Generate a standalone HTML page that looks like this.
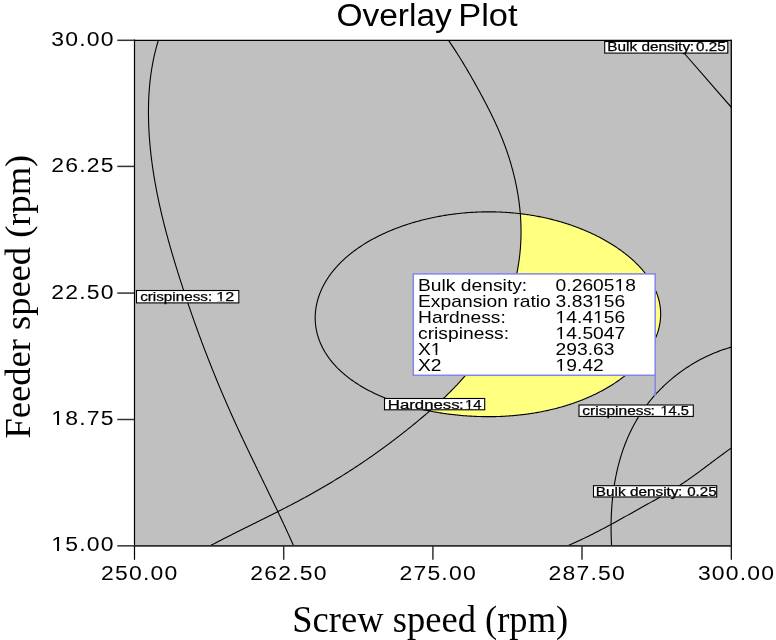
<!DOCTYPE html>
<html><head><meta charset="utf-8"><style>html,body{margin:0;padding:0;background:#fff;width:776px;height:640px;overflow:hidden}svg{display:block;will-change:transform}text{fill:#000}</style></head>
<body><svg width="776" height="640" viewBox="0 0 776 640"><rect x="0" y="0" width="776" height="640" fill="#fff"/>
<rect x="134" y="40" width="597" height="506" fill="#c0c0c0"/>
<defs><clipPath id="cp"><path d="M448.19,39.95 L449.04,41.18 L449.88,42.41 L450.72,43.65 L451.56,44.90 L452.39,46.14 L453.22,47.39 L454.04,48.64 L454.86,49.90 L455.68,51.16 L456.49,52.42 L457.30,53.68 L458.10,54.95 L458.90,56.22 L459.70,57.49 L460.49,58.77 L461.28,60.04 L462.07,61.32 L462.85,62.61 L463.63,63.89 L464.41,65.18 L465.18,66.47 L465.95,67.76 L466.71,69.05 L467.48,70.35 L468.24,71.65 L469.00,72.94 L469.75,74.25 L470.50,75.55 L471.25,76.85 L472.00,78.16 L472.74,79.46 L473.48,80.77 L474.22,82.08 L474.95,83.39 L475.68,84.70 L476.41,86.02 L477.14,87.33 L477.86,88.65 L478.59,89.96 L479.31,91.28 L480.03,92.60 L480.74,93.91 L481.45,95.23 L482.16,96.55 L482.87,97.88 L483.57,99.20 L484.27,100.52 L484.97,101.85 L485.67,103.17 L486.36,104.50 L487.04,105.83 L487.72,107.16 L488.40,108.50 L489.08,109.83 L489.75,111.17 L490.42,112.51 L491.08,113.85 L491.73,115.19 L492.39,116.53 L493.03,117.88 L493.68,119.23 L494.32,120.58 L494.95,121.94 L495.57,123.29 L496.20,124.65 L496.81,126.01 L497.42,127.38 L498.03,128.74 L498.63,130.11 L499.22,131.49 L499.80,132.86 L500.38,134.24 L500.96,135.63 L501.52,137.01 L502.08,138.40 L502.64,139.79 L503.18,141.19 L503.72,142.59 L504.25,143.99 L504.78,145.40 L505.30,146.80 L505.81,148.22 L506.31,149.63 L506.80,151.05 L507.29,152.47 L507.77,153.90 L508.25,155.32 L508.71,156.75 L509.17,158.19 L509.62,159.62 L510.06,161.06 L510.50,162.50 L510.92,163.95 L511.34,165.39 L511.75,166.84 L512.15,168.29 L512.55,169.74 L512.93,171.20 L513.31,172.66 L513.68,174.12 L514.04,175.58 L514.40,177.04 L514.74,178.51 L515.08,179.98 L515.40,181.44 L515.72,182.92 L516.03,184.39 L516.33,185.86 L516.63,187.34 L516.91,188.82 L517.18,190.30 L517.45,191.78 L517.71,193.26 L517.95,194.75 L518.19,196.23 L518.42,197.72 L518.64,199.20 L518.85,200.69 L519.06,202.18 L519.25,203.67 L519.43,205.16 L519.60,206.66 L519.77,208.15 L519.92,209.64 L520.07,211.14 L520.20,212.63 L520.33,214.13 L520.44,215.63 L520.55,217.12 L520.64,218.62 L520.73,220.12 L520.80,221.62 L520.87,223.12 L520.92,224.61 L520.97,226.11 L521.00,227.61 L521.02,229.11 L521.04,230.61 L521.04,232.11 L521.03,233.61 L521.01,235.11 L520.99,236.60 L520.95,238.10 L520.90,239.60 L520.84,241.10 L520.76,242.59 L520.68,244.09 L520.59,245.58 L520.48,247.08 L520.37,248.57 L520.24,250.06 L520.11,251.56 L519.96,253.05 L519.80,254.54 L519.63,256.03 L519.45,257.51 L519.26,259.00 L519.06,260.49 L518.84,261.97 L518.62,263.45 L518.39,264.93 L518.14,266.41 L517.89,267.89 L517.62,269.37 L517.35,270.84 L517.06,272.31 L516.76,273.78 L516.46,275.25 L516.14,276.72 L515.81,278.18 L515.47,279.64 L515.12,281.10 L514.77,282.56 L514.40,284.01 L514.02,285.46 L513.63,286.91 L513.23,288.36 L512.82,289.80 L512.40,291.24 L511.97,292.68 L511.53,294.11 L511.09,295.54 L510.63,296.97 L510.16,298.40 L509.68,299.82 L509.19,301.24 L508.69,302.65 L508.19,304.07 L507.67,305.47 L507.14,306.88 L506.60,308.28 L506.06,309.68 L505.50,311.07 L504.94,312.46 L504.36,313.84 L503.78,315.22 L503.18,316.60 L502.58,317.97 L501.96,319.34 L501.34,320.71 L500.71,322.07 L500.07,323.42 L499.42,324.77 L498.76,326.12 L498.09,327.46 L497.41,328.79 L496.73,330.13 L496.03,331.45 L495.33,332.77 L494.61,334.09 L493.89,335.40 L493.16,336.71 L492.42,338.01 L491.66,339.30 L490.91,340.59 L490.14,341.88 L489.36,343.15 L488.58,344.43 L487.78,345.69 L486.98,346.96 L486.17,348.21 L485.35,349.46 L484.52,350.70 L483.68,351.94 L482.84,353.18 L481.98,354.40 L481.12,355.63 L480.26,356.84 L479.38,358.05 L478.49,359.26 L477.60,360.46 L476.70,361.65 L475.80,362.84 L474.88,364.03 L473.96,365.21 L473.03,366.38 L472.10,367.55 L471.15,368.72 L470.21,369.88 L469.25,371.03 L468.29,372.18 L467.32,373.32 L466.34,374.46 L465.36,375.60 L464.37,376.73 L463.38,377.85 L462.38,378.97 L461.37,380.09 L460.36,381.20 L459.35,382.31 L458.32,383.41 L457.29,384.51 L456.26,385.60 L455.22,386.69 L454.18,387.77 L453.13,388.85 L452.07,389.93 L451.01,391.00 L449.95,392.07 L448.88,393.13 L447.81,394.19 L446.73,395.24 L445.65,396.29 L444.56,397.34 L443.47,398.38 L442.38,399.42 L441.28,400.46 L440.17,401.49 L439.07,402.51 L437.96,403.54 L436.84,404.56 L435.73,405.57 L434.61,406.58 L433.48,407.59 L432.35,408.60 L431.22,409.60 L430.09,410.60 L428.95,411.59 L427.81,412.58 L426.67,413.57 L425.53,414.55 L424.38,415.54 L423.23,416.51 L422.08,417.49 L420.93,418.46 L419.77,419.43 L418.61,420.39 L417.45,421.35 L416.29,422.31 L415.13,423.27 L413.96,424.22 L412.80,425.17 L411.63,426.12 L410.46,427.06 L409.29,428.00 L408.12,428.94 L406.95,429.88 L405.77,430.81 L404.60,431.74 L403.42,432.67 L402.24,433.59 L401.06,434.52 L399.88,435.44 L398.70,436.35 L397.51,437.27 L396.33,438.18 L395.14,439.09 L393.95,439.99 L392.76,440.89 L391.57,441.79 L390.37,442.69 L389.18,443.59 L387.98,444.48 L386.78,445.37 L385.58,446.25 L384.38,447.14 L383.17,448.02 L381.97,448.90 L380.76,449.77 L379.55,450.65 L378.34,451.52 L377.13,452.39 L375.91,453.25 L374.69,454.11 L373.48,454.97 L372.25,455.83 L371.03,456.69 L369.81,457.54 L368.58,458.39 L367.35,459.24 L366.12,460.08 L364.89,460.92 L363.65,461.76 L362.42,462.60 L361.18,463.43 L359.93,464.26 L358.69,465.09 L357.45,465.92 L356.20,466.75 L354.95,467.57 L353.69,468.39 L352.44,469.20 L351.18,470.02 L349.92,470.83 L348.66,471.64 L347.40,472.44 L346.13,473.25 L344.86,474.05 L343.59,474.85 L342.32,475.65 L341.04,476.44 L339.77,477.23 L338.49,478.02 L337.21,478.81 L335.92,479.59 L334.64,480.37 L333.35,481.15 L332.06,481.93 L330.77,482.70 L329.48,483.47 L328.18,484.24 L326.89,485.01 L325.59,485.77 L324.29,486.53 L322.99,487.29 L321.69,488.04 L320.38,488.80 L319.08,489.55 L317.77,490.29 L316.46,491.04 L315.15,491.78 L313.84,492.52 L312.53,493.26 L311.22,493.99 L309.90,494.72 L308.59,495.45 L307.27,496.18 L305.95,496.90 L304.63,497.62 L303.31,498.34 L301.99,499.05 L300.67,499.76 L299.34,500.47 L298.02,501.18 L296.69,501.89 L295.37,502.59 L294.04,503.29 L292.71,503.99 L291.38,504.68 L290.05,505.38 L288.72,506.07 L287.39,506.76 L286.06,507.45 L284.73,508.13 L283.39,508.82 L282.06,509.50 L280.73,510.18 L279.39,510.86 L278.06,511.54 L276.72,512.22 L275.38,512.89 L274.04,513.57 L272.71,514.24 L271.37,514.91 L270.03,515.58 L268.69,516.26 L267.35,516.93 L266.01,517.59 L264.67,518.26 L263.33,518.93 L261.99,519.60 L260.65,520.26 L259.31,520.93 L257.97,521.60 L256.63,522.26 L255.29,522.93 L253.94,523.59 L252.60,524.26 L251.26,524.92 L249.92,525.59 L248.58,526.26 L247.24,526.92 L245.89,527.59 L244.55,528.26 L243.21,528.92 L241.87,529.59 L240.53,530.26 L239.19,530.93 L237.85,531.60 L236.51,532.27 L235.17,532.94 L233.83,533.61 L232.49,534.29 L231.15,534.96 L229.81,535.64 L228.47,536.32 L227.13,537.00 L225.79,537.68 L224.46,538.36 L223.12,539.04 L221.78,539.73 L220.45,540.41 L219.11,541.10 L217.78,541.79 L216.44,542.48 L215.11,543.18 L213.78,543.88 L212.44,544.57 L211.11,545.27 L209.78,545.98 L731,546 L731,40 Z"/></clipPath><clipPath id="pa"><rect x="134" y="40" width="597" height="506"/></clipPath></defs>
<path d="M315.29,314.50 L315.33,313.79 L315.38,313.07 L315.44,312.36 L315.51,311.64 L315.58,310.93 L315.66,310.22 L315.75,309.50 L315.84,308.79 L315.95,308.08 L316.06,307.37 L316.18,306.66 L316.31,305.95 L316.44,305.24 L316.59,304.53 L316.74,303.83 L316.90,303.12 L317.06,302.41 L317.24,301.71 L317.42,301.00 L317.61,300.30 L317.81,299.60 L318.01,298.89 L318.22,298.19 L318.44,297.49 L318.67,296.79 L318.91,296.10 L319.15,295.40 L319.40,294.70 L319.66,294.01 L319.92,293.31 L320.20,292.62 L320.48,291.93 L320.77,291.24 L321.06,290.55 L321.37,289.86 L321.68,289.18 L321.99,288.49 L322.32,287.81 L322.65,287.12 L322.99,286.44 L323.34,285.76 L323.70,285.08 L324.06,284.41 L324.43,283.73 L324.81,283.06 L325.20,282.38 L325.59,281.71 L325.99,281.04 L326.40,280.37 L326.81,279.71 L327.23,279.04 L327.66,278.38 L328.10,277.72 L328.54,277.06 L329.00,276.40 L329.45,275.75 L329.92,275.09 L330.39,274.44 L330.88,273.79 L331.36,273.14 L331.86,272.50 L332.36,271.85 L332.87,271.21 L333.39,270.57 L333.91,269.93 L334.44,269.30 L334.98,268.66 L335.53,268.03 L336.08,267.40 L336.64,266.77 L337.21,266.15 L337.78,265.53 L338.36,264.91 L338.95,264.29 L339.55,263.67 L340.15,263.06 L340.76,262.45 L341.38,261.84 L342.00,261.23 L342.63,260.63 L343.27,260.03 L343.91,259.43 L344.56,258.84 L345.22,258.24 L345.88,257.65 L346.55,257.07 L347.23,256.48 L347.92,255.90 L348.61,255.32 L349.30,254.74 L350.01,254.17 L350.72,253.60 L351.44,253.03 L352.16,252.46 L352.89,251.90 L353.63,251.34 L354.37,250.79 L355.12,250.23 L355.88,249.68 L356.64,249.14 L357.41,248.59 L358.19,248.05 L358.97,247.51 L359.76,246.98 L360.55,246.45 L361.35,245.92 L362.16,245.39 L362.97,244.87 L363.79,244.35 L364.61,243.84 L365.44,243.33 L366.28,242.82 L367.12,242.31 L367.97,241.81 L368.82,241.31 L369.68,240.82 L370.54,240.33 L371.41,239.84 L372.29,239.35 L373.17,238.87 L374.06,238.40 L374.95,237.92 L375.85,237.45 L376.76,236.99 L377.67,236.52 L378.58,236.06 L379.50,235.61 L380.43,235.16 L381.36,234.71 L382.29,234.26 L383.23,233.82 L384.18,233.39 L385.13,232.95 L386.09,232.52 L387.05,232.10 L388.01,231.68 L388.98,231.26 L389.96,230.85 L390.94,230.44 L391.92,230.03 L392.91,229.63 L393.91,229.23 L394.91,228.84 L395.91,228.45 L396.92,228.06 L397.93,227.68 L398.95,227.30 L399.97,226.93 L401.00,226.56 L402.03,226.19 L403.06,225.83 L404.10,225.47 L405.14,225.12 L406.19,224.77 L407.24,224.43 L408.29,224.09 L409.35,223.75 L410.42,223.42 L411.48,223.09 L412.55,222.77 L413.63,222.45 L414.71,222.13 L415.79,221.82 L416.87,221.52 L417.96,221.21 L419.06,220.92 L420.15,220.62 L421.25,220.34 L422.36,220.05 L423.46,219.77 L424.57,219.50 L425.69,219.23 L426.80,218.96 L427.92,218.70 L429.05,218.44 L430.17,218.19 L431.30,217.94 L432.43,217.70 L433.57,217.46 L434.71,217.23 L435.85,217.00 L436.99,216.78 L438.14,216.56 L439.28,216.34 L440.44,216.13 L441.59,215.93 L442.75,215.73 L443.91,215.53 L445.07,215.34 L446.23,215.16 L447.40,214.97 L448.57,214.80 L449.74,214.63 L450.91,214.46 L452.09,214.30 L453.26,214.14 L454.44,213.99 L455.62,213.85 L456.80,213.70 L457.99,213.57 L459.18,213.44 L460.36,213.31 L461.55,213.19 L462.74,213.07 L463.94,212.96 L465.13,212.86 L466.33,212.76 L467.52,212.66 L468.72,212.57 L469.92,212.49 L471.12,212.41 L472.32,212.33 L473.52,212.26 L474.73,212.20 L475.93,212.14 L477.13,212.08 L478.34,212.04 L479.55,211.99 L480.75,211.95 L481.96,211.92 L483.17,211.89 L484.37,211.87 L485.58,211.86 L486.79,211.84 L488.00,211.84 L489.21,211.84 L490.42,211.84 L491.63,211.85 L492.83,211.87 L494.04,211.89 L495.25,211.91 L496.46,211.95 L497.67,211.98 L498.87,212.03 L500.08,212.07 L501.28,212.13 L502.49,212.18 L503.69,212.25 L504.90,212.32 L506.10,212.39 L507.30,212.47 L508.50,212.56 L509.70,212.65 L510.90,212.74 L512.09,212.84 L513.29,212.95 L514.48,213.06 L515.67,213.18 L516.86,213.30 L518.05,213.43 L519.24,213.56 L520.42,213.70 L521.61,213.84 L522.79,213.99 L523.97,214.15 L525.15,214.31 L526.32,214.47 L527.50,214.64 L528.67,214.82 L529.83,215.00 L531.00,215.18 L532.16,215.37 L533.33,215.57 L534.48,215.77 L535.64,215.97 L536.79,216.18 L537.94,216.40 L539.09,216.62 L540.24,216.85 L541.38,217.08 L542.52,217.31 L543.65,217.55 L544.78,217.80 L545.91,218.05 L547.04,218.30 L548.16,218.56 L549.28,218.83 L550.40,219.10 L551.51,219.37 L552.62,219.65 L553.72,219.94 L554.83,220.22 L555.92,220.52 L557.02,220.82 L558.11,221.12 L559.20,221.42 L560.28,221.74 L561.36,222.05 L562.43,222.37 L563.50,222.70 L564.57,223.03 L565.63,223.36 L566.69,223.70 L567.75,224.04 L568.80,224.39 L569.84,224.74 L570.89,225.09 L571.92,225.45 L572.96,225.81 L573.99,226.18 L575.01,226.55 L576.03,226.93 L577.05,227.31 L578.06,227.69 L579.06,228.08 L580.06,228.47 L581.06,228.87 L582.05,229.27 L583.04,229.67 L584.02,230.08 L585.00,230.49 L585.98,230.90 L586.95,231.32 L587.91,231.74 L588.87,232.17 L589.82,232.60 L590.77,233.03 L591.72,233.47 L592.66,233.91 L593.59,234.35 L594.52,234.80 L595.45,235.25 L596.36,235.71 L597.28,236.16 L598.19,236.63 L599.09,237.09 L599.99,237.56 L600.89,238.03 L601.77,238.51 L602.66,238.98 L603.54,239.47 L604.41,239.95 L605.28,240.44 L606.14,240.93 L607.00,241.43 L607.85,241.92 L608.69,242.42 L609.53,242.93 L610.37,243.44 L611.20,243.95 L612.02,244.46 L612.84,244.98 L613.66,245.50 L614.46,246.02 L615.27,246.54 L616.06,247.07 L616.85,247.61 L617.64,248.14 L618.42,248.68 L619.19,249.22 L619.96,249.76 L620.72,250.31 L621.48,250.86 L622.23,251.41 L622.97,251.96 L623.71,252.52 L624.44,253.08 L625.17,253.65 L625.89,254.21 L626.60,254.78 L627.31,255.35 L628.01,255.93 L628.71,256.50 L629.40,257.08 L630.08,257.67 L630.76,258.25 L631.43,258.84 L632.10,259.43 L632.75,260.02 L633.40,260.62 L634.05,261.22 L634.69,261.82 L635.32,262.42 L635.94,263.03 L636.56,263.63 L637.17,264.25 L637.78,264.86 L638.38,265.47 L638.97,266.09 L639.55,266.71 L640.13,267.34 L640.70,267.96 L641.26,268.59 L641.82,269.22 L642.37,269.85 L642.91,270.49 L643.44,271.12 L643.97,271.76 L644.49,272.40 L645.00,273.05 L645.51,273.69 L646.01,274.34 L646.50,274.99 L646.98,275.64 L647.45,276.30 L647.92,276.95 L648.38,277.61 L648.83,278.27 L649.27,278.93 L649.71,279.60 L650.14,280.26 L650.56,280.93 L650.97,281.60 L651.37,282.27 L651.77,282.94 L652.16,283.62 L652.54,284.30 L652.91,284.97 L653.27,285.65 L653.63,286.34 L653.97,287.02 L654.31,287.70 L654.64,288.39 L654.96,289.08 L655.27,289.77 L655.58,290.46 L655.87,291.15 L656.16,291.84 L656.44,292.54 L656.71,293.23 L656.97,293.93 L657.22,294.63 L657.47,295.33 L657.70,296.03 L657.93,296.73 L658.14,297.43 L658.35,298.14 L658.55,298.84 L658.74,299.55 L658.92,300.25 L659.09,300.96 L659.26,301.67 L659.41,302.38 L659.56,303.09 L659.69,303.80 L659.82,304.51 L659.94,305.22 L660.05,305.93 L660.15,306.64 L660.24,307.36 L660.32,308.07 L660.39,308.78 L660.46,309.50 L660.51,310.21 L660.56,310.93 L660.59,311.64 L660.62,312.36 L660.64,313.07 L660.65,313.79 L660.65,314.50 L660.64,315.21 L660.62,315.93 L660.59,316.64 L660.56,317.36 L660.51,318.07 L660.46,318.79 L660.39,319.50 L660.32,320.21 L660.24,320.93 L660.15,321.64 L660.05,322.35 L659.94,323.06 L659.82,323.77 L659.70,324.48 L659.56,325.19 L659.42,325.90 L659.27,326.61 L659.11,327.32 L658.94,328.03 L658.76,328.73 L658.57,329.44 L658.37,330.14 L658.17,330.84 L657.96,331.55 L657.73,332.25 L657.50,332.95 L657.27,333.65 L657.02,334.35 L656.76,335.04 L656.50,335.74 L656.23,336.43 L655.94,337.13 L655.66,337.82 L655.36,338.51 L655.05,339.20 L654.74,339.89 L654.42,340.57 L654.09,341.26 L653.75,341.94 L653.40,342.63 L653.05,343.31 L652.69,343.99 L652.32,344.66 L651.94,345.34 L651.56,346.01 L651.16,346.69 L650.76,347.36 L650.35,348.03 L649.94,348.70 L649.51,349.36 L649.08,350.03 L648.64,350.69 L648.20,351.35 L647.74,352.01 L647.28,352.66 L646.81,353.32 L646.34,353.97 L645.85,354.62 L645.36,355.27 L644.87,355.92 L644.36,356.56 L643.85,357.20 L643.33,357.85 L642.80,358.48 L642.27,359.12 L641.73,359.75 L641.18,360.39 L640.63,361.02 L640.07,361.64 L639.50,362.27 L638.92,362.89 L638.34,363.51 L637.75,364.13 L637.16,364.75 L636.56,365.36 L635.95,365.98 L635.33,366.58 L634.71,367.19 L634.08,367.80 L633.45,368.40 L632.81,369.00 L632.16,369.59 L631.50,370.19 L630.84,370.78 L630.18,371.37 L629.50,371.96 L628.82,372.54 L628.14,373.12 L627.44,373.70 L626.74,374.28 L626.04,374.85 L625.33,375.42 L624.61,375.99 L623.88,376.56 L623.15,377.12 L622.42,377.68 L621.67,378.24 L620.92,378.79 L620.17,379.34 L619.41,379.89 L618.64,380.43 L617.87,380.98 L617.09,381.52 L616.30,382.05 L615.51,382.59 L614.71,383.12 L613.91,383.64 L613.10,384.17 L612.29,384.69 L611.46,385.21 L610.64,385.72 L609.81,386.23 L608.97,386.74 L608.12,387.24 L607.27,387.74 L606.42,388.24 L605.56,388.74 L604.69,389.23 L603.82,389.72 L602.94,390.20 L602.05,390.68 L601.16,391.16 L600.27,391.63 L599.37,392.10 L598.46,392.57 L597.55,393.03 L596.63,393.49 L595.71,393.94 L594.78,394.39 L593.85,394.84 L592.91,395.29 L591.96,395.73 L591.02,396.16 L590.06,396.59 L589.10,397.02 L588.14,397.45 L587.17,397.87 L586.19,398.28 L585.21,398.69 L584.23,399.10 L583.24,399.51 L582.24,399.91 L581.24,400.30 L580.24,400.69 L579.23,401.08 L578.21,401.46 L577.20,401.84 L576.17,402.21 L575.14,402.58 L574.11,402.95 L573.07,403.31 L572.03,403.67 L570.99,404.02 L569.94,404.37 L568.88,404.71 L567.82,405.05 L566.76,405.38 L565.69,405.71 L564.62,406.04 L563.55,406.36 L562.47,406.67 L561.38,406.98 L560.30,407.29 L559.21,407.59 L558.11,407.89 L557.01,408.18 L555.91,408.46 L554.81,408.75 L553.70,409.02 L552.58,409.30 L551.47,409.56 L550.35,409.83 L549.23,410.08 L548.10,410.34 L546.97,410.59 L545.84,410.83 L544.71,411.07 L543.57,411.30 L542.43,411.53 L541.29,411.75 L540.14,411.97 L538.99,412.19 L537.84,412.39 L536.69,412.60 L535.53,412.80 L534.37,412.99 L533.21,413.18 L532.05,413.36 L530.88,413.54 L529.71,413.71 L528.54,413.88 L527.37,414.05 L526.20,414.20 L525.02,414.36 L523.85,414.51 L522.67,414.65 L521.49,414.79 L520.30,414.92 L519.12,415.05 L517.93,415.17 L516.75,415.29 L515.56,415.41 L514.37,415.51 L513.18,415.62 L511.99,415.72 L510.79,415.81 L509.60,415.90 L508.41,415.98 L507.21,416.06 L506.01,416.13 L504.82,416.20 L503.62,416.27 L502.42,416.33 L501.22,416.38 L500.02,416.43 L498.82,416.47 L497.62,416.51 L496.42,416.55 L495.21,416.58 L494.01,416.60 L492.81,416.62 L491.61,416.64 L490.41,416.65 L489.20,416.65 L488.00,416.65 L486.80,416.65 L485.59,416.64 L484.39,416.63 L483.19,416.61 L481.99,416.59 L480.79,416.56 L479.59,416.53 L478.38,416.49 L477.18,416.45 L475.98,416.40 L474.78,416.35 L473.59,416.30 L472.39,416.24 L471.19,416.17 L469.99,416.10 L468.80,416.03 L467.60,415.95 L466.41,415.87 L465.21,415.78 L464.02,415.69 L462.83,415.59 L461.64,415.49 L460.45,415.39 L459.26,415.28 L458.07,415.16 L456.88,415.04 L455.70,414.92 L454.51,414.79 L453.33,414.66 L452.15,414.52 L450.97,414.38 L449.79,414.23 L448.61,414.08 L447.44,413.93 L446.26,413.77 L445.09,413.60 L443.92,413.44 L442.75,413.26 L441.58,413.09 L440.42,412.90 L439.25,412.72 L438.09,412.53 L436.93,412.33 L435.77,412.13 L434.62,411.93 L433.46,411.72 L432.31,411.51 L431.16,411.29 L430.01,411.07 L428.87,410.85 L427.72,410.62 L426.58,410.38 L425.44,410.14 L424.31,409.90 L423.17,409.65 L422.04,409.40 L420.91,409.14 L419.79,408.88 L418.66,408.62 L417.54,408.35 L416.43,408.07 L415.31,407.79 L414.20,407.51 L413.09,407.22 L411.98,406.93 L410.88,406.63 L409.78,406.33 L408.68,406.03 L407.59,405.72 L406.50,405.40 L405.41,405.08 L404.33,404.76 L403.25,404.43 L402.17,404.10 L401.10,403.76 L400.03,403.42 L398.96,403.08 L397.90,402.73 L396.84,402.37 L395.79,402.01 L394.74,401.65 L393.69,401.28 L392.65,400.91 L391.61,400.53 L390.58,400.15 L389.55,399.77 L388.53,399.38 L387.51,398.98 L386.49,398.58 L385.48,398.18 L384.47,397.77 L383.47,397.36 L382.48,396.94 L381.49,396.52 L380.50,396.10 L379.52,395.67 L378.54,395.23 L377.57,394.79 L376.61,394.35 L375.65,393.91 L374.69,393.45 L373.74,393.00 L372.80,392.54 L371.86,392.07 L370.93,391.61 L370.00,391.13 L369.08,390.66 L368.17,390.17 L367.26,389.69 L366.36,389.20 L365.46,388.71 L364.57,388.21 L363.69,387.71 L362.81,387.20 L361.94,386.69 L361.08,386.18 L360.22,385.66 L359.37,385.14 L358.53,384.61 L357.69,384.08 L356.86,383.55 L356.04,383.01 L355.22,382.47 L354.42,381.92 L353.61,381.37 L352.82,380.82 L352.03,380.26 L351.25,379.70 L350.48,379.14 L349.72,378.57 L348.96,378.00 L348.21,377.42 L347.47,376.85 L346.73,376.26 L346.01,375.68 L345.29,375.09 L344.58,374.50 L343.88,373.90 L343.18,373.30 L342.49,372.70 L341.82,372.10 L341.15,371.49 L340.48,370.88 L339.83,370.26 L339.18,369.65 L338.54,369.03 L337.92,368.40 L337.29,367.78 L336.68,367.15 L336.08,366.52 L335.48,365.88 L334.89,365.24 L334.31,364.60 L333.74,363.96 L333.18,363.32 L332.63,362.67 L332.08,362.02 L331.55,361.37 L331.02,360.71 L330.50,360.05 L329.99,359.40 L329.49,358.73 L329.00,358.07 L328.51,357.40 L328.04,356.74 L327.57,356.07 L327.11,355.39 L326.66,354.72 L326.22,354.04 L325.79,353.37 L325.37,352.69 L324.95,352.00 L324.55,351.32 L324.15,350.64 L323.76,349.95 L323.38,349.26 L323.01,348.57 L322.65,347.88 L322.30,347.19 L321.95,346.49 L321.62,345.80 L321.29,345.10 L320.97,344.41 L320.66,343.71 L320.36,343.01 L320.07,342.30 L319.79,341.60 L319.51,340.90 L319.25,340.19 L318.99,339.49 L318.74,338.78 L318.50,338.08 L318.27,337.37 L318.05,336.66 L317.83,335.95 L317.63,335.24 L317.43,334.53 L317.24,333.82 L317.06,333.10 L316.89,332.39 L316.73,331.68 L316.57,330.97 L316.43,330.25 L316.29,329.54 L316.16,328.82 L316.04,328.11 L315.92,327.39 L315.82,326.68 L315.72,325.96 L315.64,325.24 L315.56,324.53 L315.48,323.81 L315.42,323.09 L315.36,322.38 L315.32,321.66 L315.28,320.94 L315.25,320.23 L315.23,319.51 L315.21,318.79 L315.20,318.08 L315.21,317.36 L315.22,316.65 L315.23,315.93 L315.26,315.22 Z" fill="#ffff80" clip-path="url(#cp)"/>
<g clip-path="url(#pa)" fill="none" stroke="#000" stroke-width="1.1">
<path d="M158.50,39.87 L158.06,41.32 L157.62,42.78 L157.20,44.24 L156.78,45.69 L156.38,47.16 L155.99,48.62 L155.61,50.08 L155.25,51.55 L154.89,53.02 L154.54,54.49 L154.21,55.96 L153.88,57.43 L153.57,58.90 L153.27,60.38 L152.97,61.86 L152.69,63.34 L152.42,64.82 L152.16,66.30 L151.90,67.78 L151.66,69.26 L151.43,70.75 L151.20,72.23 L150.99,73.72 L150.79,75.21 L150.59,76.70 L150.41,78.19 L150.23,79.68 L150.06,81.17 L149.90,82.66 L149.75,84.15 L149.61,85.65 L149.48,87.14 L149.36,88.64 L149.24,90.13 L149.13,91.63 L149.04,93.13 L148.94,94.62 L148.86,96.12 L148.79,97.62 L148.72,99.11 L148.66,100.61 L148.61,102.11 L148.57,103.61 L148.53,105.11 L148.50,106.60 L148.48,108.10 L148.46,109.60 L148.46,111.10 L148.45,112.60 L148.46,114.09 L148.47,115.59 L148.49,117.09 L148.52,118.59 L148.55,120.08 L148.59,121.58 L148.63,123.07 L148.68,124.57 L148.74,126.06 L148.81,127.56 L148.87,129.05 L148.95,130.54 L149.03,132.04 L149.12,133.53 L149.21,135.02 L149.31,136.51 L149.42,138.00 L149.53,139.49 L149.64,140.98 L149.77,142.47 L149.89,143.96 L150.03,145.45 L150.17,146.94 L150.31,148.42 L150.46,149.91 L150.62,151.40 L150.78,152.88 L150.94,154.37 L151.11,155.85 L151.29,157.34 L151.47,158.82 L151.66,160.31 L151.85,161.79 L152.05,163.27 L152.25,164.75 L152.46,166.24 L152.67,167.72 L152.89,169.20 L153.11,170.68 L153.34,172.16 L153.57,173.63 L153.80,175.11 L154.04,176.59 L154.29,178.07 L154.54,179.54 L154.79,181.02 L155.05,182.50 L155.32,183.97 L155.58,185.45 L155.86,186.92 L156.13,188.39 L156.41,189.87 L156.70,191.34 L156.99,192.81 L157.28,194.28 L157.58,195.75 L157.88,197.22 L158.18,198.69 L158.49,200.16 L158.81,201.63 L159.12,203.10 L159.44,204.56 L159.77,206.03 L160.10,207.49 L160.43,208.96 L160.76,210.42 L161.10,211.89 L161.45,213.35 L161.79,214.81 L162.14,216.28 L162.50,217.74 L162.85,219.20 L163.21,220.66 L163.57,222.12 L163.94,223.58 L164.31,225.04 L164.68,226.50 L165.06,227.95 L165.44,229.41 L165.82,230.87 L166.20,232.32 L166.59,233.78 L166.98,235.23 L167.38,236.68 L167.77,238.14 L168.17,239.59 L168.57,241.04 L168.98,242.49 L169.38,243.94 L169.79,245.39 L170.21,246.84 L170.62,248.29 L171.04,249.74 L171.46,251.18 L171.88,252.63 L172.30,254.08 L172.73,255.52 L173.16,256.96 L173.59,258.41 L174.02,259.85 L174.45,261.29 L174.89,262.73 L175.33,264.18 L175.77,265.62 L176.21,267.06 L176.66,268.49 L177.10,269.93 L177.55,271.37 L178.00,272.81 L178.45,274.24 L178.91,275.68 L179.36,277.11 L179.82,278.55 L180.27,279.98 L180.73,281.41 L181.19,282.84 L181.66,284.27 L182.12,285.70 L182.58,287.13 L183.05,288.56 L183.52,289.99 L183.99,291.42 L184.46,292.84 L184.93,294.27 L185.41,295.69 L185.88,297.12 L186.36,298.54 L186.84,299.97 L187.32,301.39 L187.80,302.81 L188.28,304.23 L188.76,305.65 L189.25,307.07 L189.74,308.49 L190.23,309.91 L190.72,311.33 L191.21,312.74 L191.70,314.16 L192.20,315.57 L192.69,316.99 L193.19,318.40 L193.69,319.82 L194.19,321.23 L194.69,322.64 L195.20,324.05 L195.70,325.46 L196.21,326.87 L196.72,328.28 L197.23,329.69 L197.74,331.10 L198.26,332.50 L198.77,333.91 L199.29,335.32 L199.81,336.72 L200.33,338.13 L200.85,339.53 L201.37,340.93 L201.89,342.33 L202.42,343.74 L202.95,345.14 L203.48,346.54 L204.01,347.94 L204.54,349.34 L205.08,350.73 L205.61,352.13 L206.15,353.53 L206.69,354.92 L207.23,356.32 L207.77,357.72 L208.31,359.11 L208.86,360.50 L209.41,361.90 L209.96,363.29 L210.51,364.68 L211.06,366.07 L211.61,367.46 L212.17,368.85 L212.72,370.24 L213.28,371.63 L213.84,373.02 L214.40,374.40 L214.97,375.79 L215.53,377.17 L216.10,378.56 L216.67,379.94 L217.24,381.33 L217.81,382.71 L218.39,384.09 L218.96,385.47 L219.54,386.86 L220.12,388.24 L220.70,389.62 L221.28,391.00 L221.86,392.37 L222.45,393.75 L223.04,395.13 L223.62,396.51 L224.22,397.88 L224.81,399.26 L225.40,400.63 L226.00,402.01 L226.60,403.38 L227.20,404.75 L227.80,406.12 L228.40,407.50 L229.00,408.87 L229.61,410.24 L230.22,411.61 L230.83,412.98 L231.44,414.34 L232.05,415.71 L232.67,417.08 L233.28,418.45 L233.90,419.81 L234.52,421.18 L235.15,422.54 L235.77,423.90 L236.39,425.27 L237.02,426.63 L237.65,427.99 L238.28,429.36 L238.91,430.72 L239.55,432.08 L240.18,433.44 L240.82,434.80 L241.45,436.16 L242.09,437.52 L242.73,438.87 L243.37,440.23 L244.01,441.59 L244.66,442.95 L245.30,444.30 L245.95,445.66 L246.59,447.01 L247.24,448.37 L247.89,449.73 L248.54,451.08 L249.19,452.43 L249.84,453.79 L250.49,455.14 L251.14,456.50 L251.79,457.85 L252.45,459.20 L253.10,460.56 L253.76,461.91 L254.41,463.26 L255.07,464.61 L255.72,465.97 L256.38,467.32 L257.03,468.67 L257.69,470.02 L258.35,471.37 L259.01,472.72 L259.66,474.07 L260.32,475.43 L260.98,476.78 L261.64,478.13 L262.29,479.48 L262.95,480.83 L263.61,482.18 L264.27,483.53 L264.92,484.88 L265.58,486.23 L266.24,487.58 L266.89,488.94 L267.55,490.29 L268.20,491.64 L268.86,492.99 L269.51,494.34 L270.17,495.69 L270.82,497.04 L271.48,498.39 L272.13,499.75 L272.78,501.10 L273.43,502.45 L274.08,503.80 L274.73,505.15 L275.38,506.51 L276.03,507.86 L276.67,509.21 L277.32,510.57 L277.97,511.92 L278.61,513.27 L279.25,514.63 L279.89,515.98 L280.53,517.34 L281.17,518.69 L281.81,520.05 L282.45,521.40 L283.08,522.76 L283.72,524.12 L284.35,525.47 L284.98,526.83 L285.61,528.19 L286.24,529.55 L286.87,530.91 L287.49,532.26 L288.11,533.62 L288.74,534.98 L289.36,536.35 L289.97,537.71 L290.59,539.07 L291.20,540.43 L291.82,541.79 L292.43,543.16 L293.04,544.52 L293.64,545.89"/>
<path d="M448.19,39.95 L449.04,41.18 L449.88,42.41 L450.72,43.65 L451.56,44.90 L452.39,46.14 L453.22,47.39 L454.04,48.64 L454.86,49.90 L455.68,51.16 L456.49,52.42 L457.30,53.68 L458.10,54.95 L458.90,56.22 L459.70,57.49 L460.49,58.77 L461.28,60.04 L462.07,61.32 L462.85,62.61 L463.63,63.89 L464.41,65.18 L465.18,66.47 L465.95,67.76 L466.71,69.05 L467.48,70.35 L468.24,71.65 L469.00,72.94 L469.75,74.25 L470.50,75.55 L471.25,76.85 L472.00,78.16 L472.74,79.46 L473.48,80.77 L474.22,82.08 L474.95,83.39 L475.68,84.70 L476.41,86.02 L477.14,87.33 L477.86,88.65 L478.59,89.96 L479.31,91.28 L480.03,92.60 L480.74,93.91 L481.45,95.23 L482.16,96.55 L482.87,97.88 L483.57,99.20 L484.27,100.52 L484.97,101.85 L485.67,103.17 L486.36,104.50 L487.04,105.83 L487.72,107.16 L488.40,108.50 L489.08,109.83 L489.75,111.17 L490.42,112.51 L491.08,113.85 L491.73,115.19 L492.39,116.53 L493.03,117.88 L493.68,119.23 L494.32,120.58 L494.95,121.94 L495.57,123.29 L496.20,124.65 L496.81,126.01 L497.42,127.38 L498.03,128.74 L498.63,130.11 L499.22,131.49 L499.80,132.86 L500.38,134.24 L500.96,135.63 L501.52,137.01 L502.08,138.40 L502.64,139.79 L503.18,141.19 L503.72,142.59 L504.25,143.99 L504.78,145.40 L505.30,146.80 L505.81,148.22 L506.31,149.63 L506.80,151.05 L507.29,152.47 L507.77,153.90 L508.25,155.32 L508.71,156.75 L509.17,158.19 L509.62,159.62 L510.06,161.06 L510.50,162.50 L510.92,163.95 L511.34,165.39 L511.75,166.84 L512.15,168.29 L512.55,169.74 L512.93,171.20 L513.31,172.66 L513.68,174.12 L514.04,175.58 L514.40,177.04 L514.74,178.51 L515.08,179.98 L515.40,181.44 L515.72,182.92 L516.03,184.39 L516.33,185.86 L516.63,187.34 L516.91,188.82 L517.18,190.30 L517.45,191.78 L517.71,193.26 L517.95,194.75 L518.19,196.23 L518.42,197.72 L518.64,199.20 L518.85,200.69 L519.06,202.18 L519.25,203.67 L519.43,205.16 L519.60,206.66 L519.77,208.15 L519.92,209.64 L520.07,211.14 L520.20,212.63 L520.33,214.13 L520.44,215.63 L520.55,217.12 L520.64,218.62 L520.73,220.12 L520.80,221.62 L520.87,223.12 L520.92,224.61 L520.97,226.11 L521.00,227.61 L521.02,229.11 L521.04,230.61 L521.04,232.11 L521.03,233.61 L521.01,235.11 L520.99,236.60 L520.95,238.10 L520.90,239.60 L520.84,241.10 L520.76,242.59 L520.68,244.09 L520.59,245.58 L520.48,247.08 L520.37,248.57 L520.24,250.06 L520.11,251.56 L519.96,253.05 L519.80,254.54 L519.63,256.03 L519.45,257.51 L519.26,259.00 L519.06,260.49 L518.84,261.97 L518.62,263.45 L518.39,264.93 L518.14,266.41 L517.89,267.89 L517.62,269.37 L517.35,270.84 L517.06,272.31 L516.76,273.78 L516.46,275.25 L516.14,276.72 L515.81,278.18 L515.47,279.64 L515.12,281.10 L514.77,282.56 L514.40,284.01 L514.02,285.46 L513.63,286.91 L513.23,288.36 L512.82,289.80 L512.40,291.24 L511.97,292.68 L511.53,294.11 L511.09,295.54 L510.63,296.97 L510.16,298.40 L509.68,299.82 L509.19,301.24 L508.69,302.65 L508.19,304.07 L507.67,305.47 L507.14,306.88 L506.60,308.28 L506.06,309.68 L505.50,311.07 L504.94,312.46 L504.36,313.84 L503.78,315.22 L503.18,316.60 L502.58,317.97 L501.96,319.34 L501.34,320.71 L500.71,322.07 L500.07,323.42 L499.42,324.77 L498.76,326.12 L498.09,327.46 L497.41,328.79 L496.73,330.13 L496.03,331.45 L495.33,332.77 L494.61,334.09 L493.89,335.40 L493.16,336.71 L492.42,338.01 L491.66,339.30 L490.91,340.59 L490.14,341.88 L489.36,343.15 L488.58,344.43 L487.78,345.69 L486.98,346.96 L486.17,348.21 L485.35,349.46 L484.52,350.70 L483.68,351.94 L482.84,353.18 L481.98,354.40 L481.12,355.63 L480.26,356.84 L479.38,358.05 L478.49,359.26 L477.60,360.46 L476.70,361.65 L475.80,362.84 L474.88,364.03 L473.96,365.21 L473.03,366.38 L472.10,367.55 L471.15,368.72 L470.21,369.88 L469.25,371.03 L468.29,372.18 L467.32,373.32 L466.34,374.46 L465.36,375.60 L464.37,376.73 L463.38,377.85 L462.38,378.97 L461.37,380.09 L460.36,381.20 L459.35,382.31 L458.32,383.41 L457.29,384.51 L456.26,385.60 L455.22,386.69 L454.18,387.77 L453.13,388.85 L452.07,389.93 L451.01,391.00 L449.95,392.07 L448.88,393.13 L447.81,394.19 L446.73,395.24 L445.65,396.29 L444.56,397.34 L443.47,398.38 L442.38,399.42 L441.28,400.46 L440.17,401.49 L439.07,402.51 L437.96,403.54 L436.84,404.56 L435.73,405.57 L434.61,406.58 L433.48,407.59 L432.35,408.60 L431.22,409.60 L430.09,410.60 L428.95,411.59 L427.81,412.58 L426.67,413.57 L425.53,414.55 L424.38,415.54 L423.23,416.51 L422.08,417.49 L420.93,418.46 L419.77,419.43 L418.61,420.39 L417.45,421.35 L416.29,422.31 L415.13,423.27 L413.96,424.22 L412.80,425.17 L411.63,426.12 L410.46,427.06 L409.29,428.00 L408.12,428.94 L406.95,429.88 L405.77,430.81 L404.60,431.74 L403.42,432.67 L402.24,433.59 L401.06,434.52 L399.88,435.44 L398.70,436.35 L397.51,437.27 L396.33,438.18 L395.14,439.09 L393.95,439.99 L392.76,440.89 L391.57,441.79 L390.37,442.69 L389.18,443.59 L387.98,444.48 L386.78,445.37 L385.58,446.25 L384.38,447.14 L383.17,448.02 L381.97,448.90 L380.76,449.77 L379.55,450.65 L378.34,451.52 L377.13,452.39 L375.91,453.25 L374.69,454.11 L373.48,454.97 L372.25,455.83 L371.03,456.69 L369.81,457.54 L368.58,458.39 L367.35,459.24 L366.12,460.08 L364.89,460.92 L363.65,461.76 L362.42,462.60 L361.18,463.43 L359.93,464.26 L358.69,465.09 L357.45,465.92 L356.20,466.75 L354.95,467.57 L353.69,468.39 L352.44,469.20 L351.18,470.02 L349.92,470.83 L348.66,471.64 L347.40,472.44 L346.13,473.25 L344.86,474.05 L343.59,474.85 L342.32,475.65 L341.04,476.44 L339.77,477.23 L338.49,478.02 L337.21,478.81 L335.92,479.59 L334.64,480.37 L333.35,481.15 L332.06,481.93 L330.77,482.70 L329.48,483.47 L328.18,484.24 L326.89,485.01 L325.59,485.77 L324.29,486.53 L322.99,487.29 L321.69,488.04 L320.38,488.80 L319.08,489.55 L317.77,490.29 L316.46,491.04 L315.15,491.78 L313.84,492.52 L312.53,493.26 L311.22,493.99 L309.90,494.72 L308.59,495.45 L307.27,496.18 L305.95,496.90 L304.63,497.62 L303.31,498.34 L301.99,499.05 L300.67,499.76 L299.34,500.47 L298.02,501.18 L296.69,501.89 L295.37,502.59 L294.04,503.29 L292.71,503.99 L291.38,504.68 L290.05,505.38 L288.72,506.07 L287.39,506.76 L286.06,507.45 L284.73,508.13 L283.39,508.82 L282.06,509.50 L280.73,510.18 L279.39,510.86 L278.06,511.54 L276.72,512.22 L275.38,512.89 L274.04,513.57 L272.71,514.24 L271.37,514.91 L270.03,515.58 L268.69,516.26 L267.35,516.93 L266.01,517.59 L264.67,518.26 L263.33,518.93 L261.99,519.60 L260.65,520.26 L259.31,520.93 L257.97,521.60 L256.63,522.26 L255.29,522.93 L253.94,523.59 L252.60,524.26 L251.26,524.92 L249.92,525.59 L248.58,526.26 L247.24,526.92 L245.89,527.59 L244.55,528.26 L243.21,528.92 L241.87,529.59 L240.53,530.26 L239.19,530.93 L237.85,531.60 L236.51,532.27 L235.17,532.94 L233.83,533.61 L232.49,534.29 L231.15,534.96 L229.81,535.64 L228.47,536.32 L227.13,537.00 L225.79,537.68 L224.46,538.36 L223.12,539.04 L221.78,539.73 L220.45,540.41 L219.11,541.10 L217.78,541.79 L216.44,542.48 L215.11,543.18 L213.78,543.88 L212.44,544.57 L211.11,545.27 L209.78,545.98"/>
<path d="M315.29,314.50 L315.33,313.79 L315.38,313.07 L315.44,312.36 L315.51,311.64 L315.58,310.93 L315.66,310.22 L315.75,309.50 L315.84,308.79 L315.95,308.08 L316.06,307.37 L316.18,306.66 L316.31,305.95 L316.44,305.24 L316.59,304.53 L316.74,303.83 L316.90,303.12 L317.06,302.41 L317.24,301.71 L317.42,301.00 L317.61,300.30 L317.81,299.60 L318.01,298.89 L318.22,298.19 L318.44,297.49 L318.67,296.79 L318.91,296.10 L319.15,295.40 L319.40,294.70 L319.66,294.01 L319.92,293.31 L320.20,292.62 L320.48,291.93 L320.77,291.24 L321.06,290.55 L321.37,289.86 L321.68,289.18 L321.99,288.49 L322.32,287.81 L322.65,287.12 L322.99,286.44 L323.34,285.76 L323.70,285.08 L324.06,284.41 L324.43,283.73 L324.81,283.06 L325.20,282.38 L325.59,281.71 L325.99,281.04 L326.40,280.37 L326.81,279.71 L327.23,279.04 L327.66,278.38 L328.10,277.72 L328.54,277.06 L329.00,276.40 L329.45,275.75 L329.92,275.09 L330.39,274.44 L330.88,273.79 L331.36,273.14 L331.86,272.50 L332.36,271.85 L332.87,271.21 L333.39,270.57 L333.91,269.93 L334.44,269.30 L334.98,268.66 L335.53,268.03 L336.08,267.40 L336.64,266.77 L337.21,266.15 L337.78,265.53 L338.36,264.91 L338.95,264.29 L339.55,263.67 L340.15,263.06 L340.76,262.45 L341.38,261.84 L342.00,261.23 L342.63,260.63 L343.27,260.03 L343.91,259.43 L344.56,258.84 L345.22,258.24 L345.88,257.65 L346.55,257.07 L347.23,256.48 L347.92,255.90 L348.61,255.32 L349.30,254.74 L350.01,254.17 L350.72,253.60 L351.44,253.03 L352.16,252.46 L352.89,251.90 L353.63,251.34 L354.37,250.79 L355.12,250.23 L355.88,249.68 L356.64,249.14 L357.41,248.59 L358.19,248.05 L358.97,247.51 L359.76,246.98 L360.55,246.45 L361.35,245.92 L362.16,245.39 L362.97,244.87 L363.79,244.35 L364.61,243.84 L365.44,243.33 L366.28,242.82 L367.12,242.31 L367.97,241.81 L368.82,241.31 L369.68,240.82 L370.54,240.33 L371.41,239.84 L372.29,239.35 L373.17,238.87 L374.06,238.40 L374.95,237.92 L375.85,237.45 L376.76,236.99 L377.67,236.52 L378.58,236.06 L379.50,235.61 L380.43,235.16 L381.36,234.71 L382.29,234.26 L383.23,233.82 L384.18,233.39 L385.13,232.95 L386.09,232.52 L387.05,232.10 L388.01,231.68 L388.98,231.26 L389.96,230.85 L390.94,230.44 L391.92,230.03 L392.91,229.63 L393.91,229.23 L394.91,228.84 L395.91,228.45 L396.92,228.06 L397.93,227.68 L398.95,227.30 L399.97,226.93 L401.00,226.56 L402.03,226.19 L403.06,225.83 L404.10,225.47 L405.14,225.12 L406.19,224.77 L407.24,224.43 L408.29,224.09 L409.35,223.75 L410.42,223.42 L411.48,223.09 L412.55,222.77 L413.63,222.45 L414.71,222.13 L415.79,221.82 L416.87,221.52 L417.96,221.21 L419.06,220.92 L420.15,220.62 L421.25,220.34 L422.36,220.05 L423.46,219.77 L424.57,219.50 L425.69,219.23 L426.80,218.96 L427.92,218.70 L429.05,218.44 L430.17,218.19 L431.30,217.94 L432.43,217.70 L433.57,217.46 L434.71,217.23 L435.85,217.00 L436.99,216.78 L438.14,216.56 L439.28,216.34 L440.44,216.13 L441.59,215.93 L442.75,215.73 L443.91,215.53 L445.07,215.34 L446.23,215.16 L447.40,214.97 L448.57,214.80 L449.74,214.63 L450.91,214.46 L452.09,214.30 L453.26,214.14 L454.44,213.99 L455.62,213.85 L456.80,213.70 L457.99,213.57 L459.18,213.44 L460.36,213.31 L461.55,213.19 L462.74,213.07 L463.94,212.96 L465.13,212.86 L466.33,212.76 L467.52,212.66 L468.72,212.57 L469.92,212.49 L471.12,212.41 L472.32,212.33 L473.52,212.26 L474.73,212.20 L475.93,212.14 L477.13,212.08 L478.34,212.04 L479.55,211.99 L480.75,211.95 L481.96,211.92 L483.17,211.89 L484.37,211.87 L485.58,211.86 L486.79,211.84 L488.00,211.84 L489.21,211.84 L490.42,211.84 L491.63,211.85 L492.83,211.87 L494.04,211.89 L495.25,211.91 L496.46,211.95 L497.67,211.98 L498.87,212.03 L500.08,212.07 L501.28,212.13 L502.49,212.18 L503.69,212.25 L504.90,212.32 L506.10,212.39 L507.30,212.47 L508.50,212.56 L509.70,212.65 L510.90,212.74 L512.09,212.84 L513.29,212.95 L514.48,213.06 L515.67,213.18 L516.86,213.30 L518.05,213.43 L519.24,213.56 L520.42,213.70 L521.61,213.84 L522.79,213.99 L523.97,214.15 L525.15,214.31 L526.32,214.47 L527.50,214.64 L528.67,214.82 L529.83,215.00 L531.00,215.18 L532.16,215.37 L533.33,215.57 L534.48,215.77 L535.64,215.97 L536.79,216.18 L537.94,216.40 L539.09,216.62 L540.24,216.85 L541.38,217.08 L542.52,217.31 L543.65,217.55 L544.78,217.80 L545.91,218.05 L547.04,218.30 L548.16,218.56 L549.28,218.83 L550.40,219.10 L551.51,219.37 L552.62,219.65 L553.72,219.94 L554.83,220.22 L555.92,220.52 L557.02,220.82 L558.11,221.12 L559.20,221.42 L560.28,221.74 L561.36,222.05 L562.43,222.37 L563.50,222.70 L564.57,223.03 L565.63,223.36 L566.69,223.70 L567.75,224.04 L568.80,224.39 L569.84,224.74 L570.89,225.09 L571.92,225.45 L572.96,225.81 L573.99,226.18 L575.01,226.55 L576.03,226.93 L577.05,227.31 L578.06,227.69 L579.06,228.08 L580.06,228.47 L581.06,228.87 L582.05,229.27 L583.04,229.67 L584.02,230.08 L585.00,230.49 L585.98,230.90 L586.95,231.32 L587.91,231.74 L588.87,232.17 L589.82,232.60 L590.77,233.03 L591.72,233.47 L592.66,233.91 L593.59,234.35 L594.52,234.80 L595.45,235.25 L596.36,235.71 L597.28,236.16 L598.19,236.63 L599.09,237.09 L599.99,237.56 L600.89,238.03 L601.77,238.51 L602.66,238.98 L603.54,239.47 L604.41,239.95 L605.28,240.44 L606.14,240.93 L607.00,241.43 L607.85,241.92 L608.69,242.42 L609.53,242.93 L610.37,243.44 L611.20,243.95 L612.02,244.46 L612.84,244.98 L613.66,245.50 L614.46,246.02 L615.27,246.54 L616.06,247.07 L616.85,247.61 L617.64,248.14 L618.42,248.68 L619.19,249.22 L619.96,249.76 L620.72,250.31 L621.48,250.86 L622.23,251.41 L622.97,251.96 L623.71,252.52 L624.44,253.08 L625.17,253.65 L625.89,254.21 L626.60,254.78 L627.31,255.35 L628.01,255.93 L628.71,256.50 L629.40,257.08 L630.08,257.67 L630.76,258.25 L631.43,258.84 L632.10,259.43 L632.75,260.02 L633.40,260.62 L634.05,261.22 L634.69,261.82 L635.32,262.42 L635.94,263.03 L636.56,263.63 L637.17,264.25 L637.78,264.86 L638.38,265.47 L638.97,266.09 L639.55,266.71 L640.13,267.34 L640.70,267.96 L641.26,268.59 L641.82,269.22 L642.37,269.85 L642.91,270.49 L643.44,271.12 L643.97,271.76 L644.49,272.40 L645.00,273.05 L645.51,273.69 L646.01,274.34 L646.50,274.99 L646.98,275.64 L647.45,276.30 L647.92,276.95 L648.38,277.61 L648.83,278.27 L649.27,278.93 L649.71,279.60 L650.14,280.26 L650.56,280.93 L650.97,281.60 L651.37,282.27 L651.77,282.94 L652.16,283.62 L652.54,284.30 L652.91,284.97 L653.27,285.65 L653.63,286.34 L653.97,287.02 L654.31,287.70 L654.64,288.39 L654.96,289.08 L655.27,289.77 L655.58,290.46 L655.87,291.15 L656.16,291.84 L656.44,292.54 L656.71,293.23 L656.97,293.93 L657.22,294.63 L657.47,295.33 L657.70,296.03 L657.93,296.73 L658.14,297.43 L658.35,298.14 L658.55,298.84 L658.74,299.55 L658.92,300.25 L659.09,300.96 L659.26,301.67 L659.41,302.38 L659.56,303.09 L659.69,303.80 L659.82,304.51 L659.94,305.22 L660.05,305.93 L660.15,306.64 L660.24,307.36 L660.32,308.07 L660.39,308.78 L660.46,309.50 L660.51,310.21 L660.56,310.93 L660.59,311.64 L660.62,312.36 L660.64,313.07 L660.65,313.79 L660.65,314.50 L660.64,315.21 L660.62,315.93 L660.59,316.64 L660.56,317.36 L660.51,318.07 L660.46,318.79 L660.39,319.50 L660.32,320.21 L660.24,320.93 L660.15,321.64 L660.05,322.35 L659.94,323.06 L659.82,323.77 L659.70,324.48 L659.56,325.19 L659.42,325.90 L659.27,326.61 L659.11,327.32 L658.94,328.03 L658.76,328.73 L658.57,329.44 L658.37,330.14 L658.17,330.84 L657.96,331.55 L657.73,332.25 L657.50,332.95 L657.27,333.65 L657.02,334.35 L656.76,335.04 L656.50,335.74 L656.23,336.43 L655.94,337.13 L655.66,337.82 L655.36,338.51 L655.05,339.20 L654.74,339.89 L654.42,340.57 L654.09,341.26 L653.75,341.94 L653.40,342.63 L653.05,343.31 L652.69,343.99 L652.32,344.66 L651.94,345.34 L651.56,346.01 L651.16,346.69 L650.76,347.36 L650.35,348.03 L649.94,348.70 L649.51,349.36 L649.08,350.03 L648.64,350.69 L648.20,351.35 L647.74,352.01 L647.28,352.66 L646.81,353.32 L646.34,353.97 L645.85,354.62 L645.36,355.27 L644.87,355.92 L644.36,356.56 L643.85,357.20 L643.33,357.85 L642.80,358.48 L642.27,359.12 L641.73,359.75 L641.18,360.39 L640.63,361.02 L640.07,361.64 L639.50,362.27 L638.92,362.89 L638.34,363.51 L637.75,364.13 L637.16,364.75 L636.56,365.36 L635.95,365.98 L635.33,366.58 L634.71,367.19 L634.08,367.80 L633.45,368.40 L632.81,369.00 L632.16,369.59 L631.50,370.19 L630.84,370.78 L630.18,371.37 L629.50,371.96 L628.82,372.54 L628.14,373.12 L627.44,373.70 L626.74,374.28 L626.04,374.85 L625.33,375.42 L624.61,375.99 L623.88,376.56 L623.15,377.12 L622.42,377.68 L621.67,378.24 L620.92,378.79 L620.17,379.34 L619.41,379.89 L618.64,380.43 L617.87,380.98 L617.09,381.52 L616.30,382.05 L615.51,382.59 L614.71,383.12 L613.91,383.64 L613.10,384.17 L612.29,384.69 L611.46,385.21 L610.64,385.72 L609.81,386.23 L608.97,386.74 L608.12,387.24 L607.27,387.74 L606.42,388.24 L605.56,388.74 L604.69,389.23 L603.82,389.72 L602.94,390.20 L602.05,390.68 L601.16,391.16 L600.27,391.63 L599.37,392.10 L598.46,392.57 L597.55,393.03 L596.63,393.49 L595.71,393.94 L594.78,394.39 L593.85,394.84 L592.91,395.29 L591.96,395.73 L591.02,396.16 L590.06,396.59 L589.10,397.02 L588.14,397.45 L587.17,397.87 L586.19,398.28 L585.21,398.69 L584.23,399.10 L583.24,399.51 L582.24,399.91 L581.24,400.30 L580.24,400.69 L579.23,401.08 L578.21,401.46 L577.20,401.84 L576.17,402.21 L575.14,402.58 L574.11,402.95 L573.07,403.31 L572.03,403.67 L570.99,404.02 L569.94,404.37 L568.88,404.71 L567.82,405.05 L566.76,405.38 L565.69,405.71 L564.62,406.04 L563.55,406.36 L562.47,406.67 L561.38,406.98 L560.30,407.29 L559.21,407.59 L558.11,407.89 L557.01,408.18 L555.91,408.46 L554.81,408.75 L553.70,409.02 L552.58,409.30 L551.47,409.56 L550.35,409.83 L549.23,410.08 L548.10,410.34 L546.97,410.59 L545.84,410.83 L544.71,411.07 L543.57,411.30 L542.43,411.53 L541.29,411.75 L540.14,411.97 L538.99,412.19 L537.84,412.39 L536.69,412.60 L535.53,412.80 L534.37,412.99 L533.21,413.18 L532.05,413.36 L530.88,413.54 L529.71,413.71 L528.54,413.88 L527.37,414.05 L526.20,414.20 L525.02,414.36 L523.85,414.51 L522.67,414.65 L521.49,414.79 L520.30,414.92 L519.12,415.05 L517.93,415.17 L516.75,415.29 L515.56,415.41 L514.37,415.51 L513.18,415.62 L511.99,415.72 L510.79,415.81 L509.60,415.90 L508.41,415.98 L507.21,416.06 L506.01,416.13 L504.82,416.20 L503.62,416.27 L502.42,416.33 L501.22,416.38 L500.02,416.43 L498.82,416.47 L497.62,416.51 L496.42,416.55 L495.21,416.58 L494.01,416.60 L492.81,416.62 L491.61,416.64 L490.41,416.65 L489.20,416.65 L488.00,416.65 L486.80,416.65 L485.59,416.64 L484.39,416.63 L483.19,416.61 L481.99,416.59 L480.79,416.56 L479.59,416.53 L478.38,416.49 L477.18,416.45 L475.98,416.40 L474.78,416.35 L473.59,416.30 L472.39,416.24 L471.19,416.17 L469.99,416.10 L468.80,416.03 L467.60,415.95 L466.41,415.87 L465.21,415.78 L464.02,415.69 L462.83,415.59 L461.64,415.49 L460.45,415.39 L459.26,415.28 L458.07,415.16 L456.88,415.04 L455.70,414.92 L454.51,414.79 L453.33,414.66 L452.15,414.52 L450.97,414.38 L449.79,414.23 L448.61,414.08 L447.44,413.93 L446.26,413.77 L445.09,413.60 L443.92,413.44 L442.75,413.26 L441.58,413.09 L440.42,412.90 L439.25,412.72 L438.09,412.53 L436.93,412.33 L435.77,412.13 L434.62,411.93 L433.46,411.72 L432.31,411.51 L431.16,411.29 L430.01,411.07 L428.87,410.85 L427.72,410.62 L426.58,410.38 L425.44,410.14 L424.31,409.90 L423.17,409.65 L422.04,409.40 L420.91,409.14 L419.79,408.88 L418.66,408.62 L417.54,408.35 L416.43,408.07 L415.31,407.79 L414.20,407.51 L413.09,407.22 L411.98,406.93 L410.88,406.63 L409.78,406.33 L408.68,406.03 L407.59,405.72 L406.50,405.40 L405.41,405.08 L404.33,404.76 L403.25,404.43 L402.17,404.10 L401.10,403.76 L400.03,403.42 L398.96,403.08 L397.90,402.73 L396.84,402.37 L395.79,402.01 L394.74,401.65 L393.69,401.28 L392.65,400.91 L391.61,400.53 L390.58,400.15 L389.55,399.77 L388.53,399.38 L387.51,398.98 L386.49,398.58 L385.48,398.18 L384.47,397.77 L383.47,397.36 L382.48,396.94 L381.49,396.52 L380.50,396.10 L379.52,395.67 L378.54,395.23 L377.57,394.79 L376.61,394.35 L375.65,393.91 L374.69,393.45 L373.74,393.00 L372.80,392.54 L371.86,392.07 L370.93,391.61 L370.00,391.13 L369.08,390.66 L368.17,390.17 L367.26,389.69 L366.36,389.20 L365.46,388.71 L364.57,388.21 L363.69,387.71 L362.81,387.20 L361.94,386.69 L361.08,386.18 L360.22,385.66 L359.37,385.14 L358.53,384.61 L357.69,384.08 L356.86,383.55 L356.04,383.01 L355.22,382.47 L354.42,381.92 L353.61,381.37 L352.82,380.82 L352.03,380.26 L351.25,379.70 L350.48,379.14 L349.72,378.57 L348.96,378.00 L348.21,377.42 L347.47,376.85 L346.73,376.26 L346.01,375.68 L345.29,375.09 L344.58,374.50 L343.88,373.90 L343.18,373.30 L342.49,372.70 L341.82,372.10 L341.15,371.49 L340.48,370.88 L339.83,370.26 L339.18,369.65 L338.54,369.03 L337.92,368.40 L337.29,367.78 L336.68,367.15 L336.08,366.52 L335.48,365.88 L334.89,365.24 L334.31,364.60 L333.74,363.96 L333.18,363.32 L332.63,362.67 L332.08,362.02 L331.55,361.37 L331.02,360.71 L330.50,360.05 L329.99,359.40 L329.49,358.73 L329.00,358.07 L328.51,357.40 L328.04,356.74 L327.57,356.07 L327.11,355.39 L326.66,354.72 L326.22,354.04 L325.79,353.37 L325.37,352.69 L324.95,352.00 L324.55,351.32 L324.15,350.64 L323.76,349.95 L323.38,349.26 L323.01,348.57 L322.65,347.88 L322.30,347.19 L321.95,346.49 L321.62,345.80 L321.29,345.10 L320.97,344.41 L320.66,343.71 L320.36,343.01 L320.07,342.30 L319.79,341.60 L319.51,340.90 L319.25,340.19 L318.99,339.49 L318.74,338.78 L318.50,338.08 L318.27,337.37 L318.05,336.66 L317.83,335.95 L317.63,335.24 L317.43,334.53 L317.24,333.82 L317.06,333.10 L316.89,332.39 L316.73,331.68 L316.57,330.97 L316.43,330.25 L316.29,329.54 L316.16,328.82 L316.04,328.11 L315.92,327.39 L315.82,326.68 L315.72,325.96 L315.64,325.24 L315.56,324.53 L315.48,323.81 L315.42,323.09 L315.36,322.38 L315.32,321.66 L315.28,320.94 L315.25,320.23 L315.23,319.51 L315.21,318.79 L315.20,318.08 L315.21,317.36 L315.22,316.65 L315.23,315.93 L315.26,315.22 Z"/>
<path d="M684.4,53.5 L731.3,107.3"/>
<path d="M731.18,347.22 L729.75,347.62 L728.33,348.04 L726.91,348.47 L725.49,348.92 L724.08,349.38 L722.67,349.85 L721.26,350.34 L719.86,350.85 L718.46,351.37 L717.07,351.90 L715.68,352.44 L714.30,353.01 L712.92,353.58 L711.54,354.17 L710.17,354.77 L708.81,355.38 L707.45,356.01 L706.09,356.65 L704.74,357.31 L703.40,357.98 L702.06,358.66 L700.73,359.35 L699.40,360.06 L698.08,360.78 L696.77,361.51 L695.46,362.25 L694.16,363.01 L692.86,363.78 L691.58,364.56 L690.29,365.36 L689.02,366.16 L687.75,366.98 L686.49,367.81 L685.24,368.65 L683.99,369.50 L682.75,370.37 L681.52,371.24 L680.30,372.13 L679.09,373.03 L677.88,373.94 L676.68,374.86 L675.49,375.79 L674.31,376.73 L673.13,377.69 L671.97,378.65 L670.81,379.63 L669.67,380.61 L668.53,381.61 L667.40,382.61 L666.28,383.63 L665.17,384.65 L664.07,385.69 L662.98,386.74 L661.90,387.79 L660.83,388.86 L659.77,389.93 L658.72,391.02 L657.68,392.11 L656.65,393.21 L655.63,394.33 L654.62,395.45 L653.62,396.58 L652.64,397.72 L651.66,398.86 L650.70,400.02 L649.74,401.19 L648.80,402.36 L647.87,403.54 L646.95,404.73 L646.05,405.93 L645.15,407.14 L644.27,408.35 L643.40,409.58 L642.54,410.81 L641.70,412.04 L640.86,413.29 L640.04,414.54 L639.24,415.81 L638.44,417.07 L637.66,418.35 L636.89,419.63 L636.14,420.92 L635.40,422.22 L634.67,423.52 L633.95,424.83 L633.25,426.15 L632.56,427.47 L631.88,428.80 L631.21,430.14 L630.56,431.48 L629.92,432.83 L629.29,434.18 L628.67,435.54 L628.07,436.90 L627.48,438.27 L626.89,439.65 L626.33,441.03 L625.77,442.42 L625.22,443.81 L624.69,445.21 L624.17,446.61 L623.66,448.02 L623.16,449.43 L622.67,450.84 L622.19,452.26 L621.73,453.69 L621.27,455.12 L620.83,456.55 L620.40,457.99 L619.97,459.43 L619.56,460.88 L619.16,462.32 L618.77,463.78 L618.40,465.23 L618.03,466.69 L617.67,468.15 L617.32,469.62 L616.98,471.09 L616.66,472.56 L616.34,474.03 L616.03,475.51 L615.74,476.99 L615.45,478.47 L615.17,479.96 L614.91,481.44 L614.65,482.93 L614.40,484.42 L614.16,485.92 L613.93,487.41 L613.72,488.91 L613.51,490.40 L613.30,491.90 L613.11,493.41 L612.93,494.91 L612.76,496.41 L612.59,497.91 L612.44,499.42 L612.29,500.93 L612.15,502.43 L612.02,503.94 L611.90,505.45 L611.79,506.96 L611.68,508.47 L611.59,509.97 L611.50,511.48 L611.42,512.99 L611.35,514.50 L611.29,516.01 L611.23,517.52 L611.18,519.02 L611.14,520.53 L611.11,522.04 L611.09,523.54 L611.07,525.05 L611.06,526.55 L611.06,528.05 L611.07,529.55 L611.08,531.05 L611.10,532.55 L611.13,534.05 L611.16,535.54 L611.21,537.03 L611.25,538.52 L611.31,540.01 L611.37,541.50 L611.44,542.98 L611.52,544.47 L611.60,545.95"/>
<path d="M731.34,448.06 L730.11,448.92 L728.88,449.79 L727.65,450.66 L726.42,451.54 L725.20,452.42 L723.98,453.30 L722.76,454.19 L721.54,455.08 L720.33,455.97 L719.11,456.87 L717.90,457.77 L716.69,458.67 L715.48,459.57 L714.27,460.47 L713.07,461.38 L711.86,462.28 L710.65,463.19 L709.45,464.10 L708.24,465.00 L707.03,465.91 L705.82,466.81 L704.62,467.72 L703.41,468.62 L702.20,469.52 L700.99,470.42 L699.77,471.32 L698.56,472.21 L697.35,473.10 L696.13,473.99 L694.91,474.87 L693.69,475.75 L692.46,476.63 L691.23,477.50 L690.00,478.37 L688.77,479.23 L687.53,480.09 L686.29,480.94 L685.05,481.78 L683.80,482.62 L682.55,483.45 L681.29,484.28 L680.03,485.10 L678.77,485.91 L677.50,486.71 L676.23,487.51 L674.95,488.31 L673.67,489.09 L672.38,489.88 L671.10,490.65 L669.81,491.43 L668.51,492.19 L667.22,492.96 L665.92,493.72 L664.62,494.47 L663.31,495.23 L662.01,495.97 L660.70,496.72 L659.39,497.47 L658.08,498.21 L656.77,498.95 L655.46,499.69 L654.14,500.42 L652.83,501.16 L651.51,501.89 L650.20,502.63 L648.88,503.36 L647.57,504.09 L646.25,504.83 L644.93,505.56 L643.62,506.30 L642.30,507.03 L640.99,507.77 L639.67,508.51 L638.36,509.24 L637.04,509.98 L635.73,510.72 L634.41,511.46 L633.10,512.19 L631.79,512.93 L630.47,513.67 L629.16,514.40 L627.84,515.14 L626.52,515.88 L625.21,516.61 L623.89,517.34 L622.58,518.08 L621.26,518.81 L619.94,519.54 L618.62,520.27 L617.30,521.00 L615.98,521.72 L614.66,522.45 L613.34,523.17 L612.01,523.89 L610.69,524.61 L609.37,525.32 L608.04,526.04 L606.71,526.75 L605.38,527.46 L604.05,528.16 L602.72,528.87 L601.39,529.57 L600.06,530.27 L598.72,530.96 L597.38,531.66 L596.04,532.34 L594.70,533.03 L593.36,533.71 L592.02,534.39 L590.67,535.06 L589.32,535.73 L587.97,536.40 L586.62,537.06 L585.27,537.72 L583.91,538.38 L582.55,539.03 L581.19,539.67 L579.82,540.31 L578.46,540.95 L577.09,541.58 L575.72,542.20 L574.34,542.82 L572.96,543.44 L571.58,544.05 L570.20,544.65 L568.81,545.25 L567.42,545.84"/>
</g>
<rect x="136.50" y="290.50" width="102.30" height="12.40" fill="#fff" stroke="#000" stroke-width="1.1"/><text x="140.19" y="300.70" font-family="Liberation Sans" font-size="12" textLength="67.71" lengthAdjust="spacingAndGlyphs" stroke="#000" stroke-width="0.25">crispiness</text><text x="207.93" y="300.70" font-family="Liberation Sans" font-size="12" textLength="4.23" lengthAdjust="spacingAndGlyphs" stroke="#000" stroke-width="0.25">:</text><text x="216.39" y="300.70" font-family="Liberation Sans" font-size="12" textLength="17.91" lengthAdjust="spacingAndGlyphs" stroke="#000" stroke-width="0.25">12</text>
<rect x="604.70" y="41.50" width="123.10" height="11.60" fill="#fff" stroke="#000" stroke-width="1.1"/><text x="607.27" y="51.30" font-family="Liberation Sans" font-size="12" textLength="82.81" lengthAdjust="spacingAndGlyphs" stroke="#000" stroke-width="0.25">Bulk density</text><text x="689.82" y="51.30" font-family="Liberation Sans" font-size="12" textLength="4.27" lengthAdjust="spacingAndGlyphs" stroke="#000" stroke-width="0.25">:</text><text x="696.09" y="51.30" font-family="Liberation Sans" font-size="12" textLength="29.56" lengthAdjust="spacingAndGlyphs" stroke="#000" stroke-width="0.25">0.25</text>
<rect x="384.50" y="398.50" width="100.20" height="11.30" fill="#fff" stroke="#000" stroke-width="1.1"/><text x="387.86" y="408.50" font-family="Liberation Sans" font-size="12" textLength="71.68" lengthAdjust="spacingAndGlyphs" stroke="#000" stroke-width="0.25">Hardness</text><text x="458.99" y="408.50" font-family="Liberation Sans" font-size="12" textLength="4.66" lengthAdjust="spacingAndGlyphs" stroke="#000" stroke-width="0.25">:</text><text x="465.02" y="408.50" font-family="Liberation Sans" font-size="12" textLength="16.51" lengthAdjust="spacingAndGlyphs" stroke="#000" stroke-width="0.25">14</text>
<rect x="579.00" y="405.00" width="114.30" height="11.40" fill="#fff" stroke="#000" stroke-width="1.1"/><text x="582.28" y="415.30" font-family="Liberation Sans" font-size="12" textLength="69.14" lengthAdjust="spacingAndGlyphs" stroke="#000" stroke-width="0.25">crispiness</text><text x="650.50" y="415.30" font-family="Liberation Sans" font-size="12" textLength="4.32" lengthAdjust="spacingAndGlyphs" stroke="#000" stroke-width="0.25">:</text><text x="660.44" y="415.30" font-family="Liberation Sans" font-size="12" textLength="28.37" lengthAdjust="spacingAndGlyphs" stroke="#000" stroke-width="0.25">14.5</text>
<rect x="593.50" y="485.70" width="123.20" height="11.30" fill="#fff" stroke="#000" stroke-width="1.1"/><text x="595.87" y="496.10" font-family="Liberation Sans" font-size="12" textLength="82.61" lengthAdjust="spacingAndGlyphs" stroke="#000" stroke-width="0.25">Bulk density</text><text x="678.12" y="496.10" font-family="Liberation Sans" font-size="12" textLength="4.26" lengthAdjust="spacingAndGlyphs" stroke="#000" stroke-width="0.25">:</text><text x="687.19" y="496.10" font-family="Liberation Sans" font-size="12" textLength="29.45" lengthAdjust="spacingAndGlyphs" stroke="#000" stroke-width="0.25">0.25</text>
<rect x="413.3" y="273.9" width="241.9" height="101.4" fill="#fff" stroke="#8484ec" stroke-width="1.5"/>
<line x1="655.2" y1="374.9" x2="655.2" y2="394.5" stroke="#8484ec" stroke-width="1.5"/>
<circle cx="655" cy="394.5" r="1.6" fill="#8484ec"/>
<text transform="translate(418.00,290.60) scale(1.205,1)" font-family="Liberation Sans" font-size="16" text-anchor="start" >Bulk density:</text>
<text transform="translate(555.60,290.60) scale(1.205,1)" font-family="Liberation Sans" font-size="16" text-anchor="start" >0.260518</text>
<text transform="translate(418.00,306.62) scale(1.205,1)" font-family="Liberation Sans" font-size="16" text-anchor="start" >Expansion ratio</text>
<text transform="translate(555.60,306.62) scale(1.205,1)" font-family="Liberation Sans" font-size="16" text-anchor="start" >3.83156</text>
<text transform="translate(418.00,322.64) scale(1.205,1)" font-family="Liberation Sans" font-size="16" text-anchor="start" >Hardness:</text>
<text transform="translate(555.60,322.64) scale(1.205,1)" font-family="Liberation Sans" font-size="16" text-anchor="start" >14.4156</text>
<text transform="translate(418.00,338.66) scale(1.205,1)" font-family="Liberation Sans" font-size="16" text-anchor="start" >crispiness:</text>
<text transform="translate(555.60,338.66) scale(1.205,1)" font-family="Liberation Sans" font-size="16" text-anchor="start" >14.5047</text>
<text transform="translate(418.00,354.68) scale(1.205,1)" font-family="Liberation Sans" font-size="16" text-anchor="start" >X1</text>
<text transform="translate(555.60,354.68) scale(1.205,1)" font-family="Liberation Sans" font-size="16" text-anchor="start" >293.63</text>
<text transform="translate(418.00,370.70) scale(1.205,1)" font-family="Liberation Sans" font-size="16" text-anchor="start" >X2</text>
<text transform="translate(555.60,370.70) scale(1.205,1)" font-family="Liberation Sans" font-size="16" text-anchor="start" >19.42</text>
<line x1="134.5" y1="39.5" x2="134.5" y2="546" stroke="#000" stroke-width="1.2"/>
<line x1="133.9" y1="40.3" x2="731.9" y2="40.3" stroke="#000" stroke-width="1.3"/>
<line x1="731.3" y1="39.7" x2="731.3" y2="546" stroke="#000" stroke-width="1.3"/>
<line x1="133.9" y1="545.85" x2="731.9" y2="545.85" stroke="#2e2e2e" stroke-width="1.9"/>
<line x1="117.3" y1="40.3" x2="134" y2="40.3" stroke="#333" stroke-width="1.5"/>
<line x1="117.3" y1="166.4" x2="134" y2="166.4" stroke="#333" stroke-width="1.5"/>
<line x1="117.3" y1="293.1" x2="134" y2="293.1" stroke="#333" stroke-width="1.5"/>
<line x1="117.3" y1="419.5" x2="134" y2="419.5" stroke="#333" stroke-width="1.5"/>
<line x1="117.3" y1="545.85" x2="134" y2="545.85" stroke="#333" stroke-width="1.5"/>
<line x1="134.5" y1="546" x2="134.5" y2="559.8" stroke="#000" stroke-width="1.2"/>
<line x1="283.7" y1="546" x2="283.7" y2="559.8" stroke="#333" stroke-width="1.5"/>
<line x1="432.9" y1="546" x2="432.9" y2="559.8" stroke="#333" stroke-width="1.5"/>
<line x1="582.0" y1="546" x2="582.0" y2="559.8" stroke="#333" stroke-width="1.5"/>
<line x1="731.3" y1="546" x2="731.3" y2="559.8" stroke="#000" stroke-width="1.2"/>
<text transform="translate(51.30,45.90) scale(1.19,1)" font-family="Liberation Sans" font-size="19.3" text-anchor="start" letter-spacing="1.0" >30.00</text>
<text transform="translate(51.30,172.00) scale(1.19,1)" font-family="Liberation Sans" font-size="19.3" text-anchor="start" letter-spacing="1.0" >26.25</text>
<text transform="translate(51.30,298.70) scale(1.19,1)" font-family="Liberation Sans" font-size="19.3" text-anchor="start" letter-spacing="1.0" >22.50</text>
<text transform="translate(51.30,425.10) scale(1.19,1)" font-family="Liberation Sans" font-size="19.3" text-anchor="start" letter-spacing="1.0" >18.75</text>
<text transform="translate(51.30,551.45) scale(1.19,1)" font-family="Liberation Sans" font-size="19.3" text-anchor="start" letter-spacing="1.0" >15.00</text>
<text transform="translate(101.10,580.10) scale(1.19,1)" font-family="Liberation Sans" font-size="19.3" text-anchor="start" letter-spacing="1.0" >250.00</text>
<text transform="translate(250.30,580.10) scale(1.19,1)" font-family="Liberation Sans" font-size="19.3" text-anchor="start" letter-spacing="1.0" >262.50</text>
<text transform="translate(399.50,580.10) scale(1.19,1)" font-family="Liberation Sans" font-size="19.3" text-anchor="start" letter-spacing="1.0" >275.00</text>
<text transform="translate(548.60,580.10) scale(1.19,1)" font-family="Liberation Sans" font-size="19.3" text-anchor="start" letter-spacing="1.0" >287.50</text>
<text transform="translate(697.90,580.10) scale(1.19,1)" font-family="Liberation Sans" font-size="19.3" text-anchor="start" letter-spacing="1.0" >300.00</text>
<text transform="translate(336.38,26.00) scale(1.088,1)" font-family="Liberation Sans" font-size="30.8" text-anchor="start" >Overlay</text>
<text transform="translate(458.25,26.00) scale(1.118,1)" font-family="Liberation Sans" font-size="30.8" text-anchor="start" >Plot</text>
<text transform="translate(292.30,632.40) scale(0.972,1)" font-family="Liberation Serif" font-size="37.6" text-anchor="start" >Screw speed (rpm)</text>
<text transform="translate(29.8,438.5) rotate(-90)" font-family="Liberation Serif" font-size="36.5">Feeder speed (rpm)</text><rect x="216.95" y="299.14" width="3.45" height="1.98" fill="#fff"/><rect x="221.78" y="299.14" width="3.40" height="1.98" fill="#fff"/>
<rect x="465.54" y="406.94" width="3.18" height="1.98" fill="#fff"/><rect x="469.98" y="406.94" width="3.14" height="1.98" fill="#fff"/>
<rect x="660.95" y="413.74" width="3.13" height="1.98" fill="#fff"/><rect x="665.32" y="413.74" width="3.08" height="1.98" fill="#fff"/>
<g transform="translate(555.60,290.60) scale(1.205,1)"><rect x="49.46" y="-2.08" width="3.42" height="2.64" fill="#fff"/><rect x="54.24" y="-2.08" width="3.38" height="2.64" fill="#fff"/></g>
<g transform="translate(555.60,306.62) scale(1.205,1)"><rect x="31.68" y="-2.08" width="3.42" height="2.64" fill="#fff"/><rect x="36.46" y="-2.08" width="3.38" height="2.64" fill="#fff"/></g>
<g transform="translate(555.60,322.64) scale(1.205,1)"><rect x="0.56" y="-2.08" width="3.42" height="2.64" fill="#fff"/><rect x="5.34" y="-2.08" width="3.38" height="2.64" fill="#fff"/></g>
<g transform="translate(555.60,322.64) scale(1.205,1)"><rect x="31.68" y="-2.08" width="3.42" height="2.64" fill="#fff"/><rect x="36.46" y="-2.08" width="3.38" height="2.64" fill="#fff"/></g>
<g transform="translate(555.60,338.66) scale(1.205,1)"><rect x="0.56" y="-2.08" width="3.42" height="2.64" fill="#fff"/><rect x="5.34" y="-2.08" width="3.38" height="2.64" fill="#fff"/></g>
<g transform="translate(418.00,354.68) scale(1.205,1)"><rect x="11.21" y="-2.08" width="3.42" height="2.64" fill="#fff"/><rect x="16.00" y="-2.08" width="3.38" height="2.64" fill="#fff"/></g>
<g transform="translate(555.60,370.70) scale(1.205,1)"><rect x="0.56" y="-2.08" width="3.42" height="2.64" fill="#fff"/><rect x="5.34" y="-2.08" width="3.38" height="2.64" fill="#fff"/></g>
<g transform="translate(51.30,425.10) scale(1.19,1)"><rect x="0.68" y="-2.51" width="4.13" height="3.18" fill="#fff"/><rect x="6.45" y="-2.51" width="4.07" height="3.18" fill="#fff"/></g>
<g transform="translate(51.30,551.45) scale(1.19,1)"><rect x="0.68" y="-2.51" width="4.13" height="3.18" fill="#fff"/><rect x="6.45" y="-2.51" width="4.07" height="3.18" fill="#fff"/></g></svg></body></html>
